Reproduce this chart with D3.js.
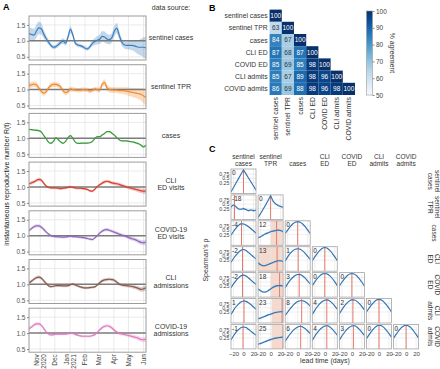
<!DOCTYPE html>
<html>
<head>
<meta charset="utf-8">
<script src="https://cdn.jsdelivr.net/npm/d3@7"></script>
<style>
  body { margin: 0; background: #fff; }
  text { font-family: "Liberation Sans", Arial, sans-serif; }
</style>
</head>
<body>
<svg id="fig" width="440" height="369"></svg>
<script>
// ---------- panel A: R(t), one value every 5 days from 2020-10-09 ----------
const startDate = new Date(2020, 9, 9)
const endDate = new Date(2021, 5, 6)
const sourceLabels = [['sentinel cases'], ['sentinel TPR'], ['cases'], ['CLI', 'ED visits'],
  ['COVID-19', 'ED visits'], ['CLI', 'admissions'], ['COVID-19', 'admissions']]
const sourceColors = ['#3a7ebd', '#f28a2c', '#3b9b3b', '#d8402f', '#9169bd', '#8c594b', '#e17bc2']

const rSentinelCases = [1.23,1.20,1.18,1.30,1.41,1.38,1.22,1.08,0.96,0.86,0.80,0.82,0.88,0.95,0.99,0.93,1.12,1.36,1.18,0.93,
  0.87,0.85,0.82,0.77,0.75,0.82,0.92,0.98,1.02,1.05,1.14,1.12,1.06,1.04,1.10,1.30,1.40,1.18,0.97,0.88,
  0.86,0.86,0.86,0.85,0.82,0.80,0.80,0.80,0.78]
const rSentinelTPR = [1.14,1.15,1.17,1.15,1.05,0.95,0.89,0.93,1.05,1.13,1.16,1.16,1.14,1.08,0.96,0.90,0.94,1.02,1.00,0.99,
  0.98,0.98,1.00,0.99,0.99,0.95,0.98,1.02,1.00,0.98,1.16,1.22,1.06,1.00,0.99,0.98,0.98,0.97,0.97,0.96,
  0.95,0.93,0.92,0.90,0.89,0.87,0.85,0.80,0.75]
const rCases = [1.28,1.27,1.26,1.25,1.24,1.20,1.09,0.99,0.88,0.84,0.90,1.01,0.96,0.88,0.84,0.90,1.02,1.08,1.00,0.88,
  0.84,0.84,0.85,0.85,0.85,0.86,0.90,0.99,1.05,1.05,1.10,1.15,1.21,1.21,1.16,1.10,1.02,0.95,0.92,0.92,
  0.92,0.90,0.89,0.88,0.85,0.83,0.78,0.73,0.78]
const rCliEd = [1.10,1.13,1.16,1.20,1.24,1.22,1.12,1.03,0.99,0.97,0.97,0.97,0.96,0.95,0.96,0.97,0.99,1.00,0.99,0.97,
  0.96,0.96,0.95,0.94,0.92,0.88,0.87,0.93,1.01,1.07,1.12,1.16,1.18,1.16,1.13,1.11,1.10,1.08,1.05,1.03,
  1.00,0.98,0.96,0.94,0.92,0.90,0.88,0.87,0.87]
const rCovidEd = [1.16,1.22,1.28,1.31,1.31,1.27,1.20,1.12,1.05,1.00,0.98,0.97,0.96,0.96,0.95,0.96,0.97,0.98,0.97,0.97,
  0.96,0.95,0.94,0.93,0.91,0.89,0.88,0.93,1.00,1.08,1.14,1.18,1.19,1.17,1.14,1.11,1.08,1.05,1.02,1.00,
  0.97,0.94,0.91,0.89,0.86,0.82,0.79,0.78,0.81]
const rCliAdmits = [1.05,1.10,1.16,1.21,1.23,1.20,1.12,1.03,0.96,0.93,0.94,0.96,0.96,0.96,0.95,0.95,0.96,0.99,1.01,0.98,
  0.95,0.92,0.90,0.89,0.89,0.90,0.91,0.92,0.98,1.05,1.11,1.14,1.15,1.16,1.15,1.13,1.07,1.01,0.98,0.97,
  0.96,0.95,0.94,0.92,0.90,0.87,0.84,0.86,0.89]
const rCovidAdmits = [1.13,1.19,1.25,1.29,1.29,1.25,1.15,1.04,0.97,0.94,0.95,0.97,0.97,0.97,0.97,0.97,0.98,1.00,0.99,0.96,
  0.93,0.91,0.90,0.90,0.90,0.90,0.92,0.95,1.02,1.10,1.17,1.21,1.23,1.21,1.16,1.09,1.03,0.99,0.97,0.96,
  0.94,0.92,0.90,0.88,0.86,0.83,0.80,0.79,0.81]

// half widths of the credible bands
const bandSentinelCases = [0.20,0.20,0.20,0.20,0.20,0.18,0.14,0.10,0.08,0.07,0.06,0.06,0.07,0.08,0.09,0.08,0.09,0.11,0.09,0.07,
  0.06,0.06,0.06,0.06,0.06,0.07,0.09,0.11,0.13,0.15,0.17,0.17,0.16,0.15,0.15,0.16,0.16,0.13,0.11,0.11,
  0.12,0.13,0.15,0.17,0.20,0.23,0.27,0.31,0.35]
const bandSentinelTPR = [0.09,0.09,0.09,0.09,0.08,0.08,0.08,0.08,0.08,0.08,0.08,0.08,0.08,0.08,0.08,0.08,0.08,0.08,0.07,0.07,
  0.07,0.07,0.07,0.07,0.07,0.07,0.07,0.07,0.07,0.08,0.09,0.10,0.10,0.09,0.09,0.09,0.09,0.10,0.10,0.11,
  0.12,0.13,0.14,0.15,0.16,0.18,0.20,0.23,0.26]
const bandCases = [0.03,0.03,0.03,0.03,0.03,0.03,0.03,0.03,0.03,0.03,0.02,0.02,0.02,0.02,0.02,0.02,0.02,0.02,0.02,0.02,
  0.02,0.02,0.02,0.02,0.02,0.02,0.02,0.02,0.02,0.02,0.02,0.02,0.02,0.02,0.02,0.02,0.02,0.02,0.02,0.02,
  0.02,0.02,0.02,0.02,0.03,0.03,0.03,0.03,0.03]
const bandHospital = [0.06,0.05,0.05,0.05,0.05,0.05,0.05,0.05,0.04,0.04,0.04,0.04,0.04,0.04,0.04,0.04,0.04,0.04,0.04,0.04,
  0.04,0.04,0.04,0.04,0.04,0.04,0.04,0.04,0.04,0.05,0.05,0.05,0.05,0.05,0.05,0.05,0.05,0.05,0.05,0.05,
  0.05,0.05,0.06,0.06,0.06,0.07,0.07,0.08,0.08]

const monthTicks = ['2020-11-01','2020-12-01','2021-01-01','2021-02-01','2021-03-01','2021-04-01','2021-05-01','2021-06-01']
const monthLabels = [['Nov','2020'], ['Dec'], ['Jan','2021'], ['Feb'], ['Mar'], ['Apr'], ['May'], ['Jun']]

// ---------- panel B: % agreement ----------
const shortNames = ['sentinel cases', 'sentinel TPR', 'cases', 'CLI ED', 'COVID ED', 'CLI admits', 'COVID admits']
const agreement = [
  [100],
  [63, 100],
  [84, 67, 100],
  [87, 68, 87, 100],
  [85, 69, 85, 98, 100],
  [85, 67, 89, 98, 96, 100],
  [86, 69, 88, 98, 96, 98, 100]
]

// ---------- panel C: Spearman's rho vs lead time ----------
const lags = [-25, -20, -15, -10, -5, 0, 5, 10, 15, 20, 25]
const colHeaders = [['sentinel','cases'], ['sentinel','TPR'], ['','cases'], ['CLI','ED'], ['COVID','ED'], ['CLI','admits'], ['COVID','admits']]
const rhoSentinelCases = [[-0.30,-0.04,0.22,0.48,0.74,1.00,0.76,0.52,0.28,0.04,-0.20]]
const rhoSentinelTPR = [
  [0.32,0.45,0.35,0.22,0.20,0.24,0.18,0.12,0.16,0.12,0.14],
  [-0.28,-0.05,0.20,0.45,0.72,1.00,0.68,0.52,0.42,0.36,0.32]]
const rhoCases = [
  [0.20,0.42,0.62,0.78,0.87,0.86,0.80,0.70,0.58,0.45,0.32],
  [0.05,0.10,0.20,0.28,0.34,0.40,0.44,0.48,0.50,0.47,0.40],
  [0.30,0.50,0.70,0.86,0.97,1.00,0.97,0.86,0.70,0.50,0.30]]
const rhoCliEd = [
  [0.12,0.35,0.55,0.72,0.84,0.88,0.82,0.70,0.58,0.45,0.33],
  [0.10,-0.02,-0.08,-0.06,0.00,0.06,0.12,0.18,0.22,0.22,0.18],
  [0.20,0.45,0.65,0.80,0.90,0.93,0.90,0.80,0.65,0.48,0.30],
  [0.22,0.45,0.66,0.83,0.96,1.00,0.96,0.83,0.66,0.45,0.22]]
const rhoCovidEd = [
  [0.15,0.38,0.58,0.74,0.86,0.90,0.85,0.73,0.60,0.47,0.35],
  [0.08,-0.02,-0.10,-0.10,-0.02,0.08,0.18,0.25,0.28,0.28,0.25],
  [0.15,0.40,0.60,0.76,0.88,0.94,0.93,0.85,0.72,0.55,0.38],
  [0.28,0.50,0.70,0.86,0.96,1.00,0.96,0.86,0.70,0.50,0.28],
  [0.26,0.48,0.68,0.85,0.96,1.00,0.96,0.85,0.68,0.48,0.26]]
const rhoCliAdmits = [
  [0.10,0.35,0.56,0.72,0.84,0.90,0.88,0.80,0.68,0.55,0.42],
  [-0.15,-0.10,-0.05,0.02,0.08,0.12,0.18,0.22,0.25,0.27,0.27],
  [0.05,0.25,0.45,0.62,0.77,0.87,0.92,0.92,0.86,0.75,0.60],
  [0.10,0.35,0.56,0.74,0.87,0.95,0.97,0.90,0.77,0.60,0.42],
  [0.15,0.38,0.60,0.77,0.90,0.97,0.96,0.88,0.74,0.57,0.38],
  [0.25,0.47,0.67,0.84,0.96,1.00,0.96,0.84,0.67,0.47,0.25]]
const rhoCovidAdmits = [
  [0.12,0.38,0.58,0.74,0.86,0.90,0.86,0.76,0.64,0.52,0.42],
  [-0.12,-0.08,-0.02,0.04,0.10,0.15,0.20,0.24,0.26,0.28,0.30],
  [0.05,0.28,0.48,0.66,0.80,0.90,0.94,0.90,0.80,0.66,0.50],
  [0.10,0.35,0.56,0.74,0.87,0.95,0.97,0.90,0.77,0.60,0.42],
  [0.12,0.36,0.57,0.75,0.88,0.96,0.97,0.90,0.76,0.58,0.40],
  [0.20,0.43,0.64,0.82,0.94,1.00,0.97,0.86,0.70,0.50,0.30],
  [0.24,0.46,0.66,0.84,0.96,1.00,0.96,0.84,0.66,0.46,0.24]]
const bestLag = [[0], [-18, 0], [-4, 12, 0], [-2, 13, 1, 0], [-2, 18, 3, 0, 0], [1, 23, 8, 4, 2, 0], [-1, 25, 6, 4, 3, 0, 0]]
// lag interval shading for the sentinel TPR column (rows cases .. COVID admits)
const tprLagLow = [0, -24, 0, 2, 2]
const tprLagHigh = [24, 25, 25, 25, 25]

const svg = d3.select('#fig')

// ================= panel A =================
const rSeries = [rSentinelCases, rSentinelTPR, rCases, rCliEd, rCovidEd, rCliAdmits, rCovidAdmits]
const rBands = [bandSentinelCases, bandSentinelTPR, bandCases, bandHospital, bandHospital, bandHospital, bandHospital]
const aLeft = 29, aRight = 146, aTop = 16, aPitch = 48.7, aH = 44
const xA = d3.scaleTime().domain([startDate, endDate]).range([aLeft, aRight])
const months = monthTicks.map(s => d3.timeParse('%Y-%m-%d')(s))

svg.append('defs').append('clipPath').attr('id', 'clipA')
  .append('rect').attr('x', aLeft).attr('y', 0).attr('width', aRight - aLeft).attr('height', aH)

rSeries.forEach((vals, i) => {
  const top = aTop + i * aPitch
  const g = svg.append('g').attr('transform', `translate(0, ${top})`)
  const y = d3.scaleLinear().domain([0.4, 1.78]).range([aH, 0])
  const pts = vals.map((v, k) => ({date: d3.timeDay.offset(startDate, k * 5), r: v, b: rBands[i][k]}))

  g.selectAll('.vg').data(months).join('line')
    .attr('x1', d => xA(d)).attr('x2', d => xA(d)).attr('y1', 0).attr('y2', aH)
    .attr('stroke', '#e4e4e4').attr('stroke-width', 0.8)
  g.selectAll('.hg').data([0.5, 1.5]).join('line')
    .attr('x1', aLeft).attr('x2', aRight).attr('y1', d => y(d)).attr('y2', d => y(d))
    .attr('stroke', '#e4e4e4').attr('stroke-width', 0.8)

  const plot = g.append('g').attr('clip-path', 'url(#clipA)')
  plot.append('path').datum(pts)
    .attr('fill', sourceColors[i]).attr('fill-opacity', 0.3)
    .attr('d', d3.area().curve(d3.curveMonotoneX)
      .x(d => xA(d.date)).y0(d => y(d.r - d.b)).y1(d => y(d.r + d.b)))
  plot.append('line')
    .attr('x1', aLeft).attr('x2', aRight).attr('y1', y(1)).attr('y2', y(1))
    .attr('stroke', '#7b7b7b').attr('stroke-width', 1.5)
  plot.append('path').datum(pts)
    .attr('fill', 'none').attr('stroke', sourceColors[i]).attr('stroke-width', 1.2)
    .attr('d', d3.line().curve(d3.curveMonotoneX).x(d => xA(d.date)).y(d => y(d.r)))

  g.append('rect').attr('x', aLeft).attr('y', 0).attr('width', aRight - aLeft).attr('height', aH)
    .attr('fill', 'none').attr('stroke', '#9c9c9c').attr('stroke-width', 1)

  const ax = g.append('g').attr('transform', `translate(${aLeft}, 0)`)
    .call(d3.axisLeft(y).tickValues([0.5, 1, 1.5]).tickFormat(d3.format('.1f')).tickSize(2).tickPadding(1.5))
  ax.select('.domain').remove()
  ax.selectAll('line').attr('stroke', '#888')
  ax.selectAll('text').attr('font-size', 6.5).attr('fill', '#555')
    .style('font-family', '"Liberation Sans", Arial, sans-serif')

  // data source label
  const lab = sourceLabels[i]
  const lt = svg.append('text').attr('x', 171).attr('y', top + aH / 2 - (lab.length - 1) * 3.6 + 2.4)
    .attr('text-anchor', 'middle').attr('font-size', 7).attr('fill', '#333')
  lab.forEach((s, k) => lt.append('tspan').attr('x', 171).attr('dy', k ? 7.3 : 0).text(s))
})

// month tick labels under the last plot
const lastBottom = aTop + 6 * aPitch + aH
monthLabels.forEach((lines, k) => {
  const t = svg.append('text')
    .attr('transform', `translate(${xA(months[k])}, ${lastBottom + 2}) rotate(-90)`)
    .attr('text-anchor', 'end').attr('font-size', 6.5).attr('fill', '#444')
  lines.forEach((s, j) => t.append('tspan').attr('x', 0)
    .attr('dy', j ? '1.05em' : `${0.35 - (lines.length - 1) * 0.52}em`).text(s))
})

svg.append('text').attr('x', 171).attr('y', 10).attr('text-anchor', 'middle')
  .attr('font-size', 7).attr('fill', '#333').text('data source:')
svg.append('text').attr('transform', `translate(9, ${(aTop + lastBottom) / 2}) rotate(-90)`)
  .attr('text-anchor', 'middle').attr('font-size', 7).attr('fill', '#222')
  .text('instantaneous reproductive number R(t)')
svg.append('text').attr('x', 3).attr('y', 10).attr('font-size', 9).attr('font-weight', 'bold').text('A')

// ================= panel B =================
const cell = 12.2, bx = 269.6, by = 9.6
const blues = d3.scaleSequential(d3.interpolateBlues).domain([50, 100])
const gB = svg.append('g')
agreement.forEach((row, i) => {
  row.forEach((v, j) => {
    gB.append('rect').attr('x', bx + j * cell).attr('y', by + i * cell)
      .attr('width', cell).attr('height', cell).attr('fill', blues(v))
    gB.append('text').attr('x', bx + j * cell + cell / 2).attr('y', by + i * cell + cell / 2 + 2.3)
      .attr('text-anchor', 'middle').attr('font-size', 6.5)
      .attr('fill', v > 75 ? '#fff' : '#333').text(v)
  })
  gB.append('text').attr('x', bx - 2).attr('y', by + i * cell + cell / 2 + 2.4)
    .attr('text-anchor', 'end').attr('font-size', 6.8).attr('fill', '#333').text(shortNames[i])
})
shortNames.forEach((s, j) => {
  gB.append('text')
    .attr('transform', `translate(${bx + j * cell + cell / 2 + 2.4}, ${by + 7 * cell + 2}) rotate(-90)`)
    .attr('text-anchor', 'end').attr('font-size', 6.8).attr('fill', '#333').text(s)
})

// colour bar
const cbX = 366.5, cbW = 6, cbTop = 11, cbBot = 95
const grad = svg.select('defs').append('linearGradient').attr('id', 'cbGrad')
  .attr('x1', 0).attr('y1', 1).attr('x2', 0).attr('y2', 0)
d3.range(0, 1.01, 0.1).forEach(t => grad.append('stop')
  .attr('offset', t).attr('stop-color', blues(50 + t * 50)))
gB.append('rect').attr('x', cbX).attr('y', cbTop).attr('width', cbW).attr('height', cbBot - cbTop)
  .attr('fill', 'url(#cbGrad)').attr('stroke', '#999').attr('stroke-width', 0.6)
const cbScale = d3.scaleLinear().domain([50, 100]).range([cbBot, cbTop])
const cbAxis = gB.append('g').attr('transform', `translate(${cbX + cbW}, 0)`)
  .call(d3.axisRight(cbScale).tickValues([50, 60, 70, 80, 90, 100]).tickSize(2).tickPadding(1.5))
cbAxis.select('.domain').remove()
cbAxis.selectAll('line').attr('stroke', '#888')
cbAxis.selectAll('text').attr('font-size', 6.5).attr('fill', '#444')
  .style('font-family', '"Liberation Sans", Arial, sans-serif')
gB.append('text').attr('transform', `translate(390, ${(cbTop + cbBot) / 2}) rotate(90)`)
  .attr('text-anchor', 'middle').attr('font-size', 6.8).attr('fill', '#333').text('% agreement')
svg.append('text').attr('x', 209).attr('y', 11).attr('font-size', 9).attr('font-weight', 'bold').text('B')

// ================= panel C =================
const rhoRows = [rhoSentinelCases, rhoSentinelTPR, rhoCases, rhoCliEd, rhoCovidEd, rhoCliAdmits, rhoCovidAdmits]
const cx0 = 231, cy0 = 169, cPitchX = 27.1, cPitchY = 25.9, cW = 25, cH = 24.5
const xC = d3.scaleLinear().domain([-25, 25]).range([0, cW])
const yC = d3.scaleLinear().domain([-0.4, 1.05]).range([cH, 0])
const gC = svg.append('g')
svg.select('defs').append('clipPath').attr('id', 'clipC')
  .append('rect').attr('width', cW).attr('height', cH)

rhoRows.forEach((row, i) => {
  row.forEach((vals, j) => {
    const g = gC.append('g').attr('transform', `translate(${cx0 + j * cPitchX}, ${cy0 + i * cPitchY})`)
    const inner = g.append('g').attr('clip-path', 'url(#clipC)')
    if (j === 1 && i >= 2) {
      const lo = tprLagLow[i - 2], hi = tprLagHigh[i - 2]
      inner.append('rect').attr('x', xC(lo)).attr('width', xC(hi) - xC(lo))
        .attr('y', 0).attr('height', cH).attr('fill', '#f7d9cc')
    }
    inner.selectAll('.gx').data([-20, 0, 20]).join('line')
      .attr('x1', d => xC(d)).attr('x2', d => xC(d)).attr('y1', 0).attr('y2', cH)
      .attr('stroke', '#e2e2e2').attr('stroke-width', 0.6)
    inner.selectAll('.gy').data([0.25, 0.5, 0.75]).join('line')
      .attr('x1', 0).attr('x2', cW).attr('y1', d => yC(d)).attr('y2', d => yC(d))
      .attr('stroke', '#e2e2e2').attr('stroke-width', 0.6)
    const lag = bestLag[i][j]
    inner.append('line').attr('x1', xC(lag)).attr('x2', xC(lag)).attr('y1', 0).attr('y2', cH)
      .attr('stroke', '#e4796a').attr('stroke-width', 1)
    const pts = lags.map((l, k) => ({lag: l, rho: vals[k]}))
    const half = j === 1 || i === 1 ? 0.06 : 0.03
    inner.append('path').datum(pts).attr('fill', '#8fb8df').attr('fill-opacity', 0.5)
      .attr('d', d3.area().curve(d3.curveMonotoneX)
        .x(d => xC(d.lag)).y0(d => yC(d.rho - half)).y1(d => yC(d.rho + half)))
    inner.append('path').datum(pts).attr('fill', 'none')
      .attr('stroke', '#2f73b4').attr('stroke-width', 1.1)
      .attr('d', d3.line().curve(i === 0 || (i === 1 && j === 1) ? d3.curveLinear : d3.curveMonotoneX)
        .x(d => xC(d.lag)).y(d => yC(d.rho)))
    g.append('rect').attr('width', cW).attr('height', cH)
      .attr('fill', 'none').attr('stroke', '#a5a5a5').attr('stroke-width', 0.8)
    g.append('text').attr('x', 1).attr('y', 6.3).attr('font-size', 6.5).attr('fill', '#333').text(lag)

    if (j === 0) {
      const ay = g.append('g').call(d3.axisLeft(yC).tickValues([0.25, 0.5, 0.75])
        .tickFormat(d => String(d)).tickSize(0).tickPadding(1.5))
      ay.select('.domain').remove()
      ay.selectAll('text').attr('font-size', 5.3).attr('fill', '#444')
        .style('font-family', '"Liberation Sans", Arial, sans-serif')
    }
    if (i === 6) {
      const axb = g.append('g').attr('transform', `translate(0, ${cH})`)
        .call(d3.axisBottom(xC).tickValues([-20, 0, 20]).tickSize(0).tickPadding(2.5))
      axb.select('.domain').remove()
      axb.selectAll('text').attr('font-size', 6).attr('fill', '#444')
        .style('font-family', '"Liberation Sans", Arial, sans-serif')
    }
  })
  // row label on the right
  const lines = colHeaders[i].filter(s => s)
  const t = gC.append('text')
    .attr('transform', `translate(${434 + (lines.length - 1) * 3}, ${cy0 + i * cPitchY + cH / 2}) rotate(90)`)
    .attr('text-anchor', 'middle').attr('font-size', 6.5).attr('fill', '#333')
  lines.forEach((s, k) => t.append('tspan').attr('x', 0).attr('dy', k ? '1em' : '0.35em').text(s))
})

colHeaders.forEach((lines, j) => {
  const t = gC.append('text').attr('x', cx0 + j * cPitchX + cW / 2).attr('y', 159)
    .attr('text-anchor', 'middle').attr('font-size', 6.5).attr('fill', '#333')
  lines.forEach((s, k) => t.append('tspan').attr('x', cx0 + j * cPitchX + cW / 2)
    .attr('dy', k ? 6.8 : 0).text(s))
})

gC.append('text').attr('transform', `translate(208, 260) rotate(-90)`)
  .attr('text-anchor', 'middle').attr('font-size', 7).attr('fill', '#333').text('Spearman\u2019s \u03c1')
gC.append('text').attr('x', 325).attr('y', 363).attr('text-anchor', 'middle')
  .attr('font-size', 7).attr('fill', '#333').text('lead time (days)')
svg.append('text').attr('x', 209).attr('y', 152).attr('font-size', 9).attr('font-weight', 'bold').text('C')
</script>
</body>
</html>
